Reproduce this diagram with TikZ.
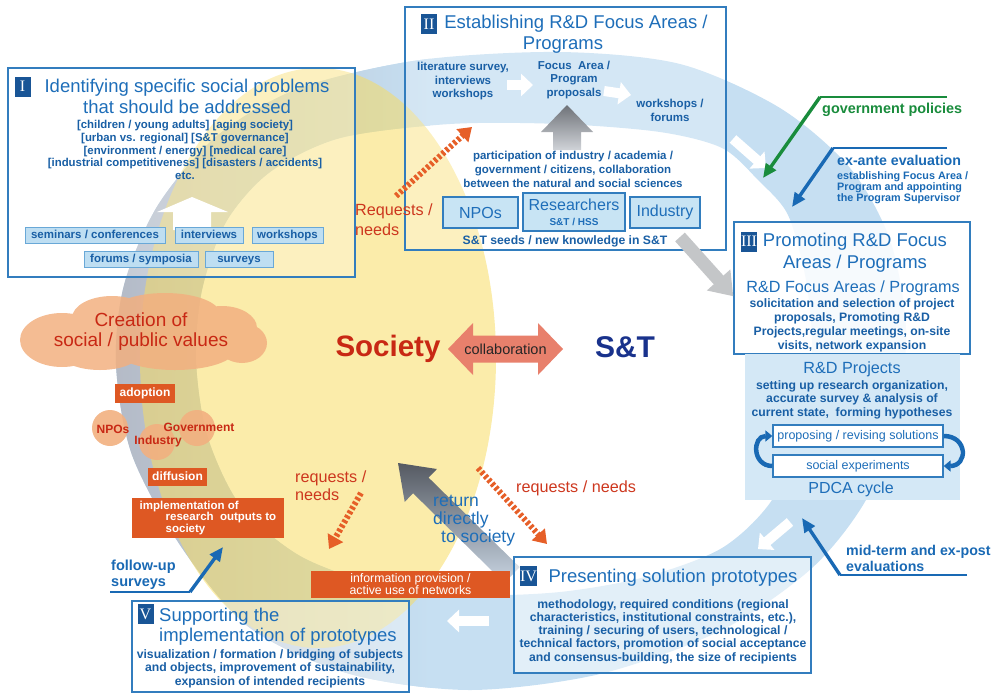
\documentclass[tikz,border=0pt]{standalone}
\usepackage{fontspec}
\setmainfont{Liberation Sans}
\newfontfamily\badgefont{Liberation Serif}
\usepackage{tikz}
\usetikzlibrary{calc,arrows.meta,positioning}

\newcommand{\fsz}[2]{\fontsize{#1}{#2}\selectfont}

\definecolor{ringblue}{RGB}{198,223,242}
\definecolor{ringgray}{RGB}{180,186,198}
\definecolor{socyellow}{RGB}{247,220,100}
\definecolor{frameblue}{RGB}{50,125,190}
\definecolor{ttlblue}{RGB}{30,110,185}
\definecolor{bodyblue}{RGB}{25,95,165}
\definecolor{badgeblue}{RGB}{25,85,150}
\definecolor{navy}{RGB}{25,50,140}
\definecolor{socred}{RGB}{200,40,20}
\definecolor{orangebox}{RGB}{222,88,35}
\definecolor{reqorange}{RGB}{230,95,40}
\definecolor{reqred}{RGB}{205,55,30}
\definecolor{peach}{RGB}{242,176,128}
\definecolor{collab}{RGB}{232,128,108}
\definecolor{chipfill}{RGB}{190,222,242}
\definecolor{chipline}{RGB}{105,168,215}
\definecolor{actfill}{RGB}{200,228,244}
\definecolor{projfill}{RGB}{212,232,246}
\definecolor{policygreen}{RGB}{25,140,60}
\definecolor{evalblue}{RGB}{25,105,180}
\definecolor{seedgray}{RGB}{196,198,200}
\definecolor{updark}{RGB}{110,114,120}
\definecolor{uplight}{RGB}{208,211,216}
\definecolor{retdark}{RGB}{85,90,98}
\definecolor{retlight}{RGB}{200,212,226}

\begin{document}
\begin{tikzpicture}[x=1pt, y=-1pt,
  frame/.style={draw=frameblue, line width=1.4pt, fill=white, fill opacity=0.25, inner sep=0pt},
  badge/.style={fill=badgeblue, text=white, font=\badgefont\fsz{16}{16},
    inner sep=0pt, minimum width=16pt, minimum height=20pt},
  ttl/.style={text=ttlblue, font=\fsz{18.5}{21}, align=center, inner sep=0pt},
  body/.style={text=bodyblue, font=\bfseries\fsz{12.2}{13.5}, align=center, inner sep=0pt},
  chip/.style={draw=chipline, fill=chipfill, line width=1pt, text=bodyblue,
    font=\bfseries\fsz{11.5}{12}, inner sep=0pt, minimum height=16pt,
    text height=8.5pt, text depth=2.5pt},
  actor/.style={draw=frameblue, fill=actfill, line width=1.3pt, text=ttlblue,
    font=\fsz{16}{15}, align=center, inner sep=0pt},
  cyclebox/.style={draw=frameblue, fill=white, line width=1.3pt, text=ttlblue,
    font=\fsz{12.5}{13}, inner sep=0pt, minimum width=170pt, minimum height=22pt,
    text height=9pt, text depth=3pt},
  obox/.style={fill=orangebox, text=white, font=\bfseries\fsz{12}{12}, inner sep=0pt},
  oneline/.style={text height=9pt, text depth=3pt},
  peachdot/.style={circle, fill=peach, fill opacity=0.9, minimum size=36pt, inner sep=0pt},
  redbold/.style={text=socred, font=\bfseries\fsz{12}{12}, inner sep=0pt},
  redtxt/.style={text=reqred, font=\fsz{16.2}{18}, align=left, anchor=west, inner sep=0pt},
  evaltxt/.style={font=\bfseries\fsz{14.2}{16}, align=left, anchor=west, inner sep=0pt},
  reqarrow/.style={draw=reqorange, line width=6pt, dash pattern=on 3pt off 2.2pt,
    -{Triangle[width=17pt,length=13pt]}},
  whitearrow/.style={draw=white, line width=10pt, -{Triangle[width=22pt,length=12pt]}},
  evalline/.style={line width=1.6pt},
  evalarrow/.style={line width=3.4pt, -{Triangle[width=12pt,length=14pt]}},
  cyclearrow/.style={draw=evalblue, line width=4.5pt, -{Triangle[width=11pt,length=7pt]}},
  seedarrow/.style={draw=seedgray, line width=13pt, -{Triangle[width=30pt,length=22pt]}}
]
  \useasboundingbox (0,0) rectangle (1000,699);

  % === Background: cycle ring and Society ===
  \begin{scope}[even odd rule]
    \clip
      plot[smooth cycle] coordinates {(560,52) (680,64) (780,108) (850,168) (890,240)
        (906,330) (896,420) (866,500) (812,568) (722,630) (600,674) (470,690) (350,674)
        (250,628) (182,548) (132,455) (116,365) (124,285) (158,205) (218,135) (300,88)
        (420,60)}
      plot[smooth cycle] coordinates {(560,124) (660,132) (722,148) (758,180) (788,215)
        (806,280) (812,350) (802,428) (772,500) (722,548) (645,577) (560,592) (470,595)
        (380,585) (300,556) (240,505) (207,435) (196,360) (202,290) (226,222) (270,172)
        (340,138) (450,124)};
    \fill[ringblue] (100,40) rectangle (920,699);
    \shade[left color=ringgray, right color=ringblue] (110,40) rectangle (430,699);
  \end{scope}
  \fill[socyellow, fill opacity=0.55] (318,358) ellipse [x radius=178, y radius=290];

  % White flow arrows on the ring
  \draw[whitearrow] (507,85) -- (533,85);
  \draw[whitearrow] (604,91) -- (631,95);
  \draw[whitearrow] (733,139) -- (766,168);
  \draw[whitearrow] (790,522) -- (758,549);
  \draw[whitearrow] (489,621) -- (447,621);

  % Return arrow (shaded)
  \coordinate (rtip) at (398,463);
  \coordinate (rtail) at (512,575);
  \coordinate (rhb) at ($(rtip)!32pt!(rtail)$);
  \shade[top color=retdark, bottom color=retlight]
    (rtip) -- ($(rhb)!23pt!90:(rtail)$) -- ($(rhb)!11pt!90:(rtail)$)
    -- ($(rtail)!11pt!-90:(rhb)$) -- ($(rtail)!11pt!90:(rhb)$)
    -- ($(rhb)!11pt!-90:(rtail)$) -- ($(rhb)!23pt!-90:(rtail)$) -- cycle;

  % === Panel I ===
  \node[frame, minimum width=347pt, minimum height=209pt] (p1) at (181.5,172.5) {};
  \node[badge] (b1) at (22.5,86.5) {I};
  \node[ttl] (t1) at (187,96) {Identifying specific social problems\\that should be addressed};
  \node[body, font=\bfseries\fsz{11.4}{12.9}] (l1) at (185,150)
    {[children / young adults] [aging society]\\{}[urban vs. regional] [S\&T governance]\\{}[environment / energy] [medical care]\\{}[industrial competitiveness] [disasters / accidents]\\etc.};
  \fill[white] (173,230) -- (173,212) -- (157,212) -- (192,197) -- (228,212)
    -- (211,212) -- (211,230) -- cycle;
  \node[chip, minimum width=140pt] (c1) at (95,235) {seminars / conferences};
  \node[chip, minimum width=68pt] (c2) at (209,235) {interviews};
  \node[chip, minimum width=71pt] (c3) at (287.5,235) {workshops};
  \node[chip, minimum width=114pt] (c4) at (141,259) {forums / symposia};
  \node[chip, minimum width=68pt] (c5) at (239,259) {surveys};

  % === Panel II ===
  \node[frame, minimum width=321pt, minimum height=243pt] (p2) at (565.5,128.5) {};
  \node[badge] (b2) at (429,24) {II};
  \node[ttl] (t2) at (576,34) {Establishing R\&D Focus Areas /\\Programs\hspace*{26pt}};
  \node[body, font=\bfseries\fsz{11.5}{13.5}] (lit) at (463,81.5)
    {literature survey,\\interviews\\workshops};
  \node[body, font=\bfseries\fsz{11.5}{13.5}] (fa) at (574,80)
    {Focus\ \ Area /\\Program\\proposals};
  \node[body, font=\bfseries\fsz{11.5}{14}] (ws) at (670,110) {workshops /\\forums};
  \shade[top color=updark, bottom color=uplight]
    (553,150) -- (553,132) -- (541,132) -- (567,105) -- (593,132) -- (581,132)
    -- (581,150) -- cycle;
  \node[body, font=\bfseries\fsz{11.5}{14}] (part) at (573,169)
    {participation of industry / academia /\\government / citizens, collaboration\\between the natural and social sciences};
  \node[actor, minimum width=75pt, minimum height=31pt] (npo) at (480.5,212.5) {NPOs};
  \node[actor, minimum width=102pt, minimum height=38pt] (res) at (574,212)
    {Researchers\\{\bfseries\fsz{10}{10}S\&T / HSS}};
  \node[actor, minimum width=70pt, minimum height=31pt] (ind) at (665,212.5) {Industry};
  \node[body, font=\bfseries\fsz{12.2}{13}] (seeds) at (565,241)
    {S\&T seeds / new knowledge in S\&T};

  % Requests towards Panel II
  \coordinate (rq1a) at (396,196);
  \coordinate (rq1b) at (472,127);
  \draw[reqarrow] (rq1a) -- (rq1b);
  \node[redtxt, font=\fsz{16.2}{20}] (rq1) at (355,220) {Requests /\\needs};

  % === Panel III ===
  \node[frame, fill opacity=0.85, minimum width=236pt, minimum height=132pt] (p3) at (852,288) {};
  \coordinate (seedtail) at (680,237);
  \draw[seedarrow] (seedtail) -- (p3.184);
  \node[badge] (b3) at (749,241.5) {III};
  \node[ttl, font=\fsz{18.5}{22}] (t3) at (855,253) {Promoting R\&D Focus\\Areas / Programs};
  \node[ttl, font=\fsz{16.2}{18}] (fap) at (853,288) {R\&D Focus Areas / Programs};
  \node[body, font=\bfseries\fsz{12.2}{14}] (sol) at (852,325)
    {solicitation and selection of project\\proposals, Promoting R\&D\\Projects,regular meetings, on-site\\visits, network expansion};

  \node[fill=projfill, minimum width=215pt, minimum height=146pt, inner sep=0pt] (proj) at (852.5,427) {};
  \node[ttl, font=\fsz{16.2}{18}] (projt) at (852,369) {R\&D Projects};
  \node[body, font=\bfseries\fsz{12.2}{13.5}] (setup) at (852,399.5)
    {setting up research organization,\\accurate survey \& analysis of\\current state,\ \ forming hypotheses};
  \node[cyclebox] (prop) at (858,436) {proposing / revising solutions};
  \node[cyclebox] (soc) at (858,466) {social experiments};
  \draw[cyclearrow] (soc.west) .. controls (752,466) and (752,436) .. (prop.west);
  \draw[cyclearrow] (prop.east) .. controls (968,436) and (968,466) .. (soc.east);
  \node[ttl, font=\fsz{16}{18}] (pdca) at (851,489) {PDCA cycle};

  % Policies and evaluations
  \coordinate (gp) at (947,97);
  \coordinate (gpk) at (820,97);
  \coordinate (gptip) at (763,178);
  \draw[evalline, draw=policygreen] (gp) -- (gpk);
  \draw[evalarrow, draw=policygreen] (gpk) -- (gptip);
  \node[evaltxt, text=policygreen, font=\bfseries\fsz{14.4}{16}] (gpt) at (822,110) {government policies};

  \coordinate (ea) at (947,148);
  \coordinate (eak) at (833,148);
  \coordinate (eatip) at (792,207);
  \draw[evalline, draw=evalblue] (ea) -- (eak);
  \draw[evalarrow, draw=evalblue] (eak) -- (eatip);
  \node[evaltxt, text=evalblue] (eat) at (837,160) {ex-ante evaluation};
  \node[evaltxt, text=evalblue, font=\bfseries\fsz{10.8}{11.2}] (eas) at (837,188)
    {establishing Focus Area /\\Program and appointing\\the Program Supervisor};

  \coordinate (mt) at (967,575);
  \coordinate (mtk) at (840,575);
  \coordinate (mttip) at (802,518);
  \draw[evalline, draw=evalblue] (mt) -- (mtk);
  \draw[evalarrow, draw=evalblue] (mtk) -- (mttip);
  \node[evaltxt, text=evalblue] (mtt) at (846,558) {mid-term and ex-post\\evaluations};

  % === Panel IV ===
  \node[frame, fill opacity=0.5, minimum width=297pt, minimum height=116pt] (p4) at (662.5,615) {};
  \node[badge] (b4) at (528.5,576) {IV};
  \node[ttl] (t4) at (673,578) {Presenting solution prototypes};
  \node[body, font=\bfseries\fsz{12.2}{13.3}] (meth) at (663,631.5)
    {methodology, required conditions (regional\\characteristics, institutional constraints, etc.),\\training / securing of users, technological /\\technical factors, promotion of social acceptance\\and consensus-building, the size of recipients};

  % === Panel V ===
  \node[frame, fill opacity=0.4, minimum width=277pt, minimum height=91pt] (p5) at (270.5,646.5) {};
  \node[badge] (b5) at (145.5,614) {V};
  \node[ttl, align=left, anchor=west, font=\fsz{18.5}{19.5}] (t5) at (159,626.5)
    {Supporting the\\implementation of prototypes};
  \node[body, font=\bfseries\fsz{12.2}{13.5}] (vis) at (270,668.5)
    {visualization / formation / bridging of subjects\\and objects, improvement of sustainability,\\expansion of intended recipients};

  \coordinate (fu) at (110,592);
  \coordinate (fuk) at (190,592);
  \coordinate (futip) at (223,547);
  \draw[evalline, draw=evalblue] (fu) -- (fuk);
  \draw[evalarrow, draw=evalblue] (fuk) -- (futip);
  \node[evaltxt, text=evalblue, font=\bfseries\fsz{14.5}{16}] (fut) at (111,575) {follow-up\\surveys};

  \node[obox, minimum width=199pt, minimum height=27pt, align=center,
    font=\fsz{12.3}{12}] (info) at (410.5,584.5) {information provision /\\active use of networks};

  % === Society side ===
  % Cloud
  \fill[peach, fill opacity=0.85]
    (62,340) ellipse [x radius=42, y radius=27]
    (112,318) ellipse [x radius=40, y radius=22]
    (165,314) ellipse [x radius=55, y radius=21]
    (222,328) ellipse [x radius=35, y radius=22]
    (242,343) ellipse [x radius=25, y radius=20]
    (175,350) ellipse [x radius=60, y radius=20]
    (100,353) ellipse [x radius=40, y radius=17];
  \node[text=socred, font=\fsz{19}{20}, align=center, inner sep=0pt] (cv) at (141,332)
    {Creation of\\social / public values};
  \node[obox, oneline, minimum width=60pt, minimum height=19pt] (adopt) at (145,393.5) {adoption};
  \node[peachdot] (cnpo) at (110,428) {};
  \node[peachdot] (cgov) at (197,428) {};
  \node[peachdot] (cind) at (157,442) {};
  \node[redbold] (lnpo) at (113,429) {NPOs};
  \node[redbold] (lgov) at (199,427) {Government};
  \node[redbold] (lind) at (158,441) {Industry};
  \node[obox, oneline, minimum width=59pt, minimum height=18pt] (diff) at (177.5,477) {diffusion};
  \node[obox, minimum width=152pt, minimum height=40pt, align=left,
    font=\bfseries\fsz{11.5}{11.5}] (impl) at (208,518)
    {implementation of\\\hspace*{26pt}research\ \ outputs to\\\hspace*{26pt}society};

  % Centre
  \node[font=\bfseries\fsz{29.5}{30}, text=socred, inner sep=0pt] (society) at (388,349) {Society};
  \node[font=\bfseries\fsz{30}{30}, text=navy, inner sep=0pt] (st) at (625,347) {S\&T};
  \fill[collab] (448,349) -- (473,323) -- (473,335.5) -- (538,335.5) -- (538,323)
    -- (563,349) -- (538,375) -- (538,362.5) -- (473,362.5) -- (473,375) -- cycle;
  \node[font=\fsz{14.5}{15}, text=black!85, inner sep=0pt] (collabt) at (505.5,349) {collaboration};

  % Requests / needs and return
  \coordinate (rq2a) at (361,493);
  \coordinate (rq2b) at (329,549);
  \draw[reqarrow] (rq2a) -- (rq2b);
  \node[redtxt] (rq2) at (295,486) {requests /\\needs};
  \coordinate (rq3a) at (478,468);
  \coordinate (rq3b) at (547,544);
  \draw[reqarrow] (rq3a) -- (rq3b);
  \node[redtxt] (rq3) at (516,488) {requests / needs};
  \node[anchor=west, align=left, text=ttlblue, font=\fsz{17.5}{18}, inner sep=0pt] (ret) at (433,521)
    {return\\directly\\\hspace*{8pt}to society};
\end{tikzpicture}
\end{document}
